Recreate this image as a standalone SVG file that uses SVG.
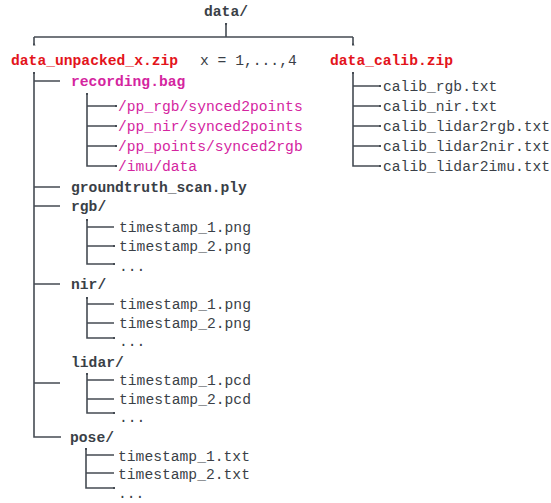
<svg xmlns="http://www.w3.org/2000/svg" width="551" height="503" viewBox="0 0 551 503">
<defs>
<style>
text{font-family:"Liberation Mono","DejaVu Sans Mono",monospace;font-size:14.67px;fill:#3a3f47}
.b{font-weight:bold}
.red{fill:#e3141b;font-weight:bold}
.mag{fill:#d4259f}
.magb{fill:#d4259f;font-weight:bold}
.ln{fill:none;stroke:#454b53;stroke-width:1.6}
</style>
<marker id="tip" viewBox="0 0 4 4" refX="2" refY="2" markerWidth="3" markerHeight="3" orient="auto" markerUnits="userSpaceOnUse">
<path d="M0,0 L4,2 L0,4 z" fill="#454b53"/>
</marker>
</defs>
<rect width="551" height="503" fill="#ffffff"/>
<g id="connectors">
<path class="ln" d="M226,24 V37 M34,37 H353 M34,37 V45 M353,37 V45" marker-start="url(#tip)"/>
<path class="ln" d="M34,45 V44" marker-end="url(#tip)"/>
<path class="ln" d="M353,45 V44" marker-end="url(#tip)"/>
<path class="ln" d="M34,73 V437 H61"/>
<path class="ln" d="M34,81 H60 M34,187 H60 M34,206 H60 M34,284 H60 M34,383 H60"/>
<path class="ln" d="M87,94 V166 H116 M87,106 H116 M87,126 H116 M87,146 H116"/>
<path class="ln" d="M87,220 V264 H114 M87,227 H114 M87,246 H114"/>
<path class="ln" d="M87,298 V338 H114 M87,304 H114 M87,323 H114"/>
<path class="ln" d="M87,374 V413 H114 M87,380 H114 M87,399 H114"/>
<path class="ln" d="M86,449 V488 H114 M86,455 H114 M86,473 H114"/>
<path class="ln" d="M353,73 V166 H380 M353,86 H380 M353,106 H380 M353,126 H380 M353,146 H380"/>
<g fill="#454b53">
<rect x="33" y="72" width="2" height="2"/>
<rect x="86" y="93" width="2" height="2"/>
<rect x="86" y="219" width="2" height="2"/>
<rect x="86" y="297" width="2" height="2"/>
<rect x="86" y="373" width="2" height="2"/>
<rect x="85" y="448" width="2" height="2"/>
<rect x="352" y="72" width="2" height="2"/>
<rect x="225" y="23" width="2" height="2"/>
<rect x="115" y="105" width="2" height="2"/><rect x="115" y="125" width="2" height="2"/><rect x="115" y="145" width="2" height="2"/><rect x="115" y="165" width="2" height="2"/>
<rect x="113" y="245" width="2" height="2"/><rect x="113" y="263" width="2" height="2"/>
<rect x="113" y="337" width="2" height="2"/><rect x="113" y="412" width="2" height="2"/><rect x="113" y="487" width="2" height="2"/>
<rect x="379" y="85" width="2" height="2"/><rect x="379" y="105" width="2" height="2"/><rect x="379" y="125" width="2" height="2"/><rect x="379" y="145" width="2" height="2"/><rect x="379" y="165" width="2" height="2"/>
</g>
</g>
<g id="n-data"><text class="b" x="226" y="16" text-anchor="middle">data/</text></g>
<g id="n-unpacked"><text class="red" x="11" y="65">data_unpacked_x.zip</text></g>
<g id="n-xnote"><text x="200" y="65">x = 1,...,4</text></g>
<g id="n-calib"><text class="red" x="330" y="65">data_calib.zip</text></g>
<g id="n-recording"><text class="magb" x="71" y="86">recording.bag</text></g>
<g id="n-topics">
<text class="mag" x="118" y="111">/pp_rgb/synced2points</text>
<text class="mag" x="118" y="131">/pp_nir/synced2points</text>
<text class="mag" x="118" y="151">/pp_points/synced2rgb</text>
<text class="mag" x="118" y="171">/imu/data</text>
</g>
<g id="n-calibfiles">
<text x="383" y="91">calib_rgb.txt</text>
<text x="383" y="111">calib_nir.txt</text>
<text x="383" y="131">calib_lidar2rgb.txt</text>
<text x="383" y="151">calib_lidar2nir.txt</text>
<text x="383" y="171">calib_lidar2imu.txt</text>
</g>
<g id="n-groundtruth"><text class="b" x="71" y="192">groundtruth_scan.ply</text></g>
<g id="n-rgb">
<text class="b" x="71" y="211">rgb/</text>
<text x="119" y="232">timestamp_1.png</text>
<text x="119" y="251">timestamp_2.png</text>
<text x="119" y="271">...</text>
</g>
<g id="n-nir">
<text class="b" x="71" y="289">nir/</text>
<text x="119" y="309">timestamp_1.png</text>
<text x="119" y="328">timestamp_2.png</text>
<text x="119" y="346">...</text>
</g>
<g id="n-lidar">
<text class="b" x="71" y="367">lidar/</text>
<text x="119" y="385">timestamp_1.pcd</text>
<text x="119" y="404">timestamp_2.pcd</text>
<text x="119" y="422">...</text>
</g>
<g id="n-pose">
<text class="b" x="70" y="442">pose/</text>
<text x="118" y="461">timestamp_1.txt</text>
<text x="118" y="479">timestamp_2.txt</text>
<text x="118" y="498">...</text>
</g>
</svg>
